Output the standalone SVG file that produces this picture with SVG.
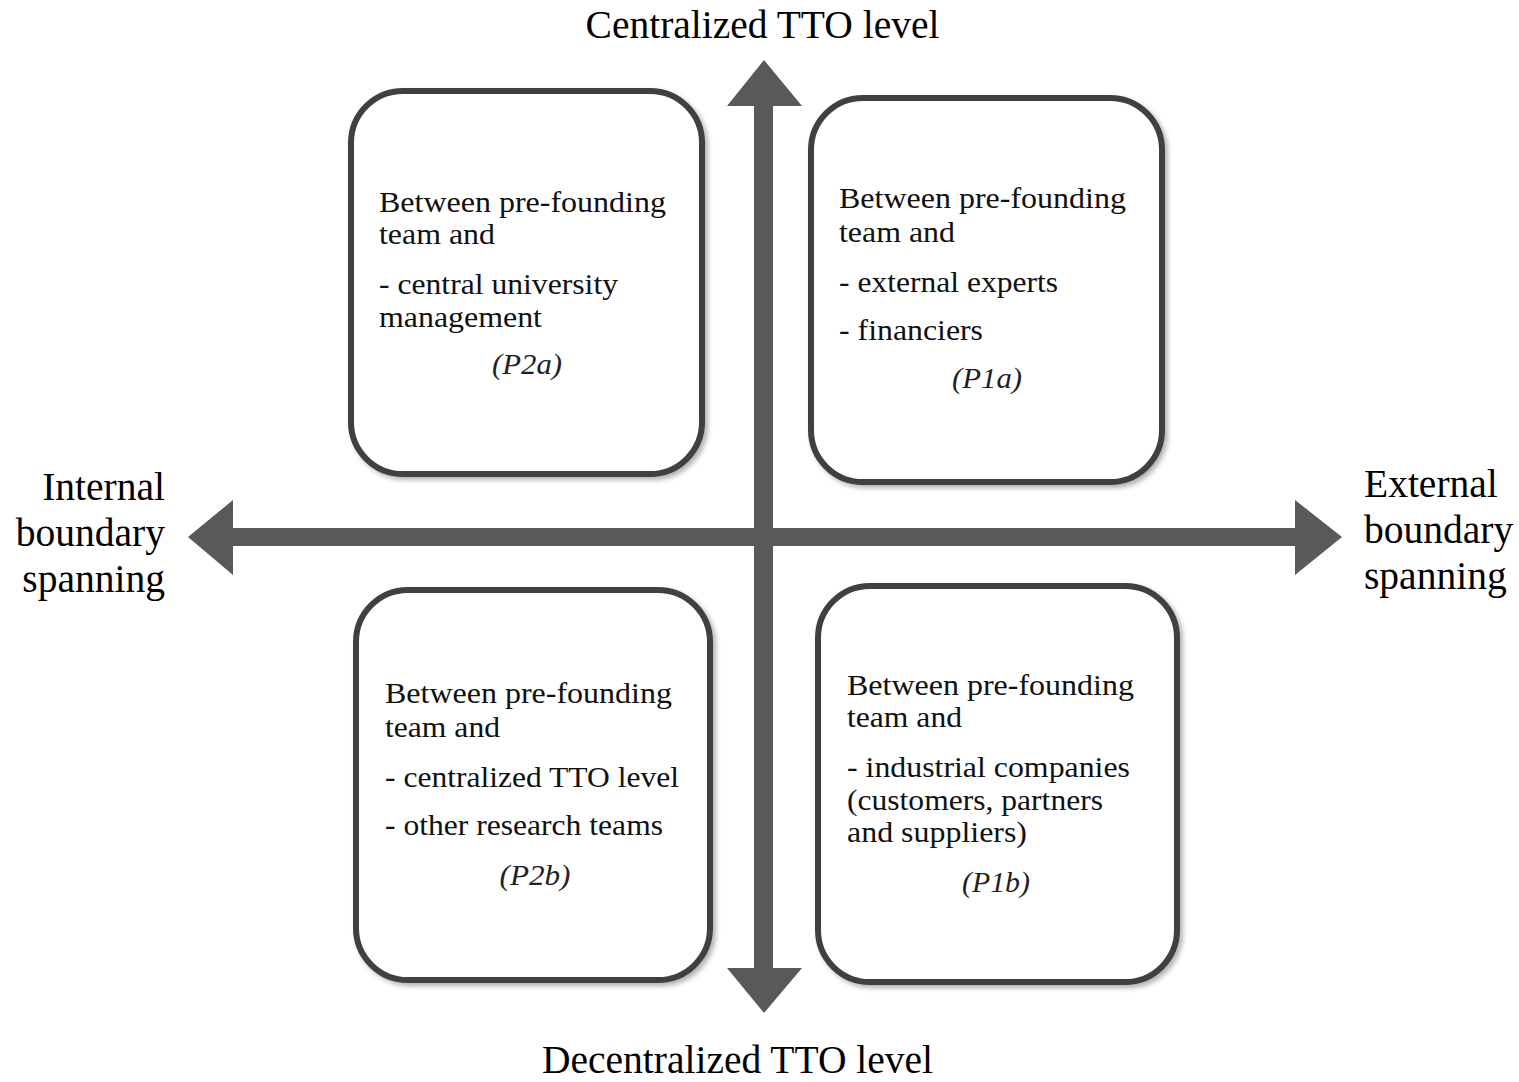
<svg xmlns="http://www.w3.org/2000/svg" width="1519" height="1082" viewBox="0 0 1519 1082">
<style>
.box{fill:#ffffff;stroke:#404040;stroke-width:6;filter:url(#sh)}
.t{font-family:"Liberation Serif","Times New Roman",serif;font-size:30px;fill:#111111}
.p{font-family:"Liberation Serif","Times New Roman",serif;font-size:30px;font-style:italic;fill:#222222;text-anchor:middle}
.lab{font-family:"Liberation Serif","Times New Roman",serif;font-size:39.5px;fill:#000000}
.arr{fill:#595959}
</style>
<defs>
<filter id="sh" x="-10%" y="-10%" width="125%" height="125%">
<feDropShadow dx="3" dy="3" stdDeviation="2.5" flood-color="#000000" flood-opacity="0.3"/>
</filter>
</defs>
<rect width="1519" height="1082" fill="#ffffff"/>
<g id="connectors">
<polygon class="arr" points="764,60 802,106 773,106 773,968 802,968 764,1013 727,968 754,968 754,106 727,106"/>
<polygon class="arr" points="188,537 233,500 233,528 1295,528 1295,500 1342,537 1295,575 1295,546 233,546 233,575"/>
</g>
<g id="label-top"><text class="lab" x="762.5" y="38" text-anchor="middle">Centralized TTO level</text></g>
<g id="label-bottom"><text class="lab" x="737.5" y="1073" text-anchor="middle">Decentralized TTO level</text></g>
<g id="label-left">
<text class="lab" x="165" y="500" text-anchor="end">Internal</text>
<text class="lab" x="165" y="546" text-anchor="end">boundary</text>
<text class="lab" x="165" y="592" text-anchor="end">spanning</text>
</g>
<g id="label-right">
<text class="lab" x="1364" y="497">External</text>
<text class="lab" x="1364" y="543">boundary</text>
<text class="lab" x="1364" y="589">spanning</text>
</g>
<g id="box-p2a">
<rect class="box" x="351" y="91" width="351" height="383" rx="52"/>
<text class="t" x="379" y="212" textLength="287" lengthAdjust="spacingAndGlyphs">Between pre-founding</text>
<text class="t" x="379" y="244" textLength="116" lengthAdjust="spacingAndGlyphs">team and</text>
<text class="t" x="379" y="294" textLength="239" lengthAdjust="spacingAndGlyphs">- central university</text>
<text class="t" x="379" y="327" textLength="163" lengthAdjust="spacingAndGlyphs">management</text>
<text class="p" x="527" y="374" textLength="70" lengthAdjust="spacingAndGlyphs">(P2a)</text>
</g>
<g id="box-p1a">
<rect class="box" x="811" y="98" width="351" height="384" rx="52"/>
<text class="t" x="839" y="208" textLength="287" lengthAdjust="spacingAndGlyphs">Between pre-founding</text>
<text class="t" x="839" y="242" textLength="116" lengthAdjust="spacingAndGlyphs">team and</text>
<text class="t" x="839" y="292" textLength="219" lengthAdjust="spacingAndGlyphs">- external experts</text>
<text class="t" x="839" y="340" textLength="144" lengthAdjust="spacingAndGlyphs">- financiers</text>
<text class="p" x="987" y="388" textLength="70" lengthAdjust="spacingAndGlyphs">(P1a)</text>
</g>
<g id="box-p2b">
<rect class="box" x="356" y="590" width="354" height="390" rx="52"/>
<text class="t" x="385" y="703" textLength="287" lengthAdjust="spacingAndGlyphs">Between pre-founding</text>
<text class="t" x="385" y="737" textLength="115" lengthAdjust="spacingAndGlyphs">team and</text>
<text class="t" x="385" y="787" textLength="294" lengthAdjust="spacingAndGlyphs">- centralized TTO level</text>
<text class="t" x="385" y="835" textLength="278" lengthAdjust="spacingAndGlyphs">- other research teams</text>
<text class="p" x="535" y="885" textLength="71" lengthAdjust="spacingAndGlyphs">(P2b)</text>
</g>
<g id="box-p1b">
<rect class="box" x="818" y="586" width="359" height="396" rx="52"/>
<text class="t" x="847" y="695" textLength="287" lengthAdjust="spacingAndGlyphs">Between pre-founding</text>
<text class="t" x="847" y="727" textLength="115" lengthAdjust="spacingAndGlyphs">team and</text>
<text class="t" x="847" y="777" textLength="283" lengthAdjust="spacingAndGlyphs">- industrial companies</text>
<text class="t" x="847" y="810" textLength="256" lengthAdjust="spacingAndGlyphs">(customers, partners</text>
<text class="t" x="847" y="842" textLength="180" lengthAdjust="spacingAndGlyphs">and suppliers)</text>
<text class="p" x="996" y="892" textLength="68" lengthAdjust="spacingAndGlyphs">(P1b)</text>
</g>
</svg>
